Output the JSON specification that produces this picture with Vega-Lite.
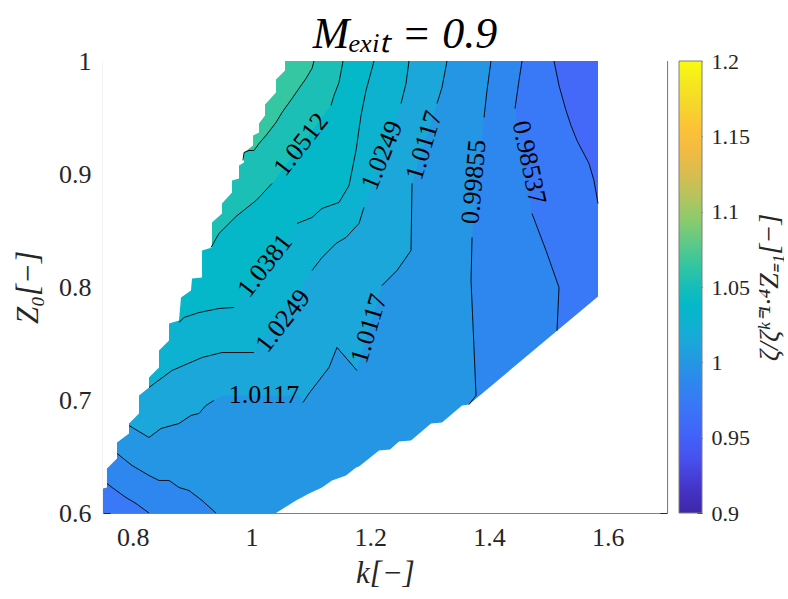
{
  "$schema": "https://vega.github.io/schema/vega-lite/v6.json",
  "padding": {"left": 12, "top": 13, "right": 0, "bottom": 0},
  "background": "white",
  "config": {
    "view": {"stroke": null},
    "font": "Liberation Serif",
    "title": {"font": "Liberation Serif", "fontSize": 44, "fontWeight": "normal", "fontStyle": "italic", "color": "#000000"},
    "axis": {
      "labelFont": "Liberation Serif", "labelFontSize": 26, "labelColor": "#262626",
      "titleFont": "Liberation Serif", "titleFontSize": 31, "titleFontWeight": "normal", "titleFontStyle": "italic", "titleColor": "#262626",
      "domainColor": "#7f7f7f", "domainWidth": 1.2, "tickColor": "#262626", "tickWidth": 1,
      "grid": false, "zindex": 1
    }
  },
  "datasets": {
    "c": [
      {"l":"L0","s":0,"i":0,"k":0.70,"z":1.05},
      {"l":"L0","s":0,"i":1,"k":1.75,"z":1.05},
      {"l":"L0","s":0,"i":2,"k":1.75,"z":0.55},
      {"l":"L0","s":0,"i":3,"k":0.70,"z":0.55},

      {"l":"L1","s":0,"i":0,"k":1.5097,"z":1.05},
      {"l":"L1","s":1,"i":1,"k":1.5097,"z":1.0},
      {"l":"L1","s":1,"i":2,"k":1.5181,"z":0.9783},
      {"l":"L1","s":1,"i":3,"k":1.5299,"z":0.9562},
      {"l":"L1","s":1,"i":4,"k":1.5383,"z":0.9429},
      {"l":"L1","s":1,"i":5,"k":1.5484,"z":0.9296},
      {"l":"L1","s":1,"i":6,"k":1.5686,"z":0.9093},
      {"l":"L1","s":1,"i":7,"k":1.5770,"z":0.8942},
      {"l":"L1","s":1,"i":8,"k":1.5838,"z":0.8739},
      {"l":"L1","s":0,"i":9,"k":1.75,"z":0.8739},
      {"l":"L1","s":0,"i":10,"k":1.75,"z":0.55},
      {"l":"L1","s":0,"i":11,"k":0.70,"z":0.55},
      {"l":"L1","s":0,"i":12,"k":0.70,"z":1.05},

      {"l":"L2","s":0,"i":0,"k":1.4558,"z":1.05},
      {"l":"L2","s":1,"i":1,"k":1.4558,"z":1.0},
      {"l":"L2","s":1,"i":2,"k":1.4507,"z":0.9827},
      {"l":"L2","s":1,"i":3,"k":1.4440,"z":0.9580},
      {"l":"L2","s":2,"i":4,"k":1.4726,"z":0.8650},
      {"l":"L2","s":2,"i":5,"k":1.4962,"z":0.8323},
      {"l":"L2","s":2,"i":6,"k":1.5181,"z":0.7996},
      {"l":"L2","s":2,"i":7,"k":1.5147,"z":0.7612},
      {"l":"L2","s":0,"i":8,"k":1.75,"z":0.55},
      {"l":"L2","s":0,"i":9,"k":0.8275,"z":0.55},
      {"l":"L2","s":3,"i":10,"k":0.8275,"z":0.6},
      {"l":"L2","s":3,"i":11,"k":0.8056,"z":0.6084},
      {"l":"L2","s":3,"i":12,"k":0.7887,"z":0.6137},
      {"l":"L2","s":3,"i":13,"k":0.7652,"z":0.6226},
      {"l":"L2","s":3,"i":14,"k":0.7567,"z":0.6261},
      {"l":"L2","s":0,"i":15,"k":0.70,"z":0.6261},
      {"l":"L2","s":0,"i":16,"k":0.70,"z":1.05},

      {"l":"L3","s":0,"i":0,"k":1.4035,"z":1.05},
      {"l":"L3","s":1,"i":1,"k":1.4035,"z":1.0},
      {"l":"L3","s":1,"i":2,"k":1.3968,"z":0.9739},
      {"l":"L3","s":1,"i":3,"k":1.3918,"z":0.9500},
      {"l":"L3","s":2,"i":4,"k":1.3716,"z":0.8438},
      {"l":"L3","s":2,"i":5,"k":1.3699,"z":0.8058},
      {"l":"L3","s":2,"i":6,"k":1.3749,"z":0.7465},
      {"l":"L3","s":2,"i":7,"k":1.3783,"z":0.7040},
      {"l":"L3","s":2,"i":8,"k":1.3665,"z":0.6960},
      {"l":"L3","s":0,"i":9,"k":1.40,"z":0.55},
      {"l":"L3","s":0,"i":10,"k":0.9403,"z":0.55},
      {"l":"L3","s":3,"i":11,"k":0.9403,"z":0.6},
      {"l":"L3","s":3,"i":12,"k":0.9168,"z":0.6111},
      {"l":"L3","s":3,"i":13,"k":0.8949,"z":0.6199},
      {"l":"L3","s":3,"i":14,"k":0.8780,"z":0.6226},
      {"l":"L3","s":3,"i":15,"k":0.8612,"z":0.6288},
      {"l":"L3","s":3,"i":16,"k":0.8443,"z":0.6288},
      {"l":"L3","s":3,"i":17,"k":0.8275,"z":0.6332},
      {"l":"L3","s":3,"i":18,"k":0.7988,"z":0.6421},
      {"l":"L3","s":3,"i":19,"k":0.7736,"z":0.6527},
      {"l":"L3","s":0,"i":20,"k":0.70,"z":0.6527},
      {"l":"L3","s":0,"i":21,"k":0.70,"z":1.05},

      {"l":"L4","s":0,"i":0,"k":1.3294,"z":1.05},
      {"l":"L4","s":1,"i":1,"k":1.3294,"z":1.0},
      {"l":"L4","s":1,"i":2,"k":1.3210,"z":0.9765},
      {"l":"L4","s":1,"i":3,"k":1.3126,"z":0.9624},
      {"l":"L4","s":2,"i":4,"k":1.2705,"z":0.8916},
      {"l":"L4","s":2,"i":5,"k":1.2688,"z":0.8323},
      {"l":"L4","s":2,"i":6,"k":1.2452,"z":0.8146},
      {"l":"L4","s":2,"i":7,"k":1.2199,"z":0.8013},
      {"l":"L4","s":3,"i":8,"k":1.1778,"z":0.7261},
      {"l":"L4","s":3,"i":9,"k":1.1441,"z":0.7465},
      {"l":"L4","s":3,"i":10,"k":1.1307,"z":0.7288},
      {"l":"L4","s":3,"i":11,"k":1.0970,"z":0.7058},
      {"l":"L4","s":3,"i":12,"k":1.0869,"z":0.6978},
      {"l":"L4","s":0,"i":13,"k":1.0801,"z":0.7040},
      {"l":"L4","s":0,"i":14,"k":0.9504,"z":0.7040},
      {"l":"L4","s":4,"i":15,"k":0.9370,"z":0.6996},
      {"l":"L4","s":4,"i":16,"k":0.9235,"z":0.6952},
      {"l":"L4","s":4,"i":17,"k":0.9117,"z":0.6881},
      {"l":"L4","s":4,"i":18,"k":0.8982,"z":0.6863},
      {"l":"L4","s":4,"i":19,"k":0.8780,"z":0.6792},
      {"l":"L4","s":4,"i":20,"k":0.8477,"z":0.6748},
      {"l":"L4","s":4,"i":21,"k":0.8275,"z":0.6668},
      {"l":"L4","s":4,"i":22,"k":0.7938,"z":0.6774},
      {"l":"L4","s":0,"i":23,"k":0.70,"z":0.6774},
      {"l":"L4","s":0,"i":24,"k":0.70,"z":1.05},

      {"l":"L5","s":0,"i":0,"k":1.2654,"z":1.05},
      {"l":"L5","s":1,"i":1,"k":1.2654,"z":1.0},
      {"l":"L5","s":1,"i":2,"k":1.2604,"z":0.9801},
      {"l":"L5","s":1,"i":3,"k":1.2520,"z":0.9624},
      {"l":"L5","s":2,"i":4,"k":1.1896,"z":0.8704},
      {"l":"L5","s":2,"i":5,"k":1.1812,"z":0.8562},
      {"l":"L5","s":2,"i":6,"k":1.1593,"z":0.8438},
      {"l":"L5","s":2,"i":7,"k":1.1425,"z":0.8385},
      {"l":"L5","s":2,"i":8,"k":1.1189,"z":0.8261},
      {"l":"L5","s":2,"i":9,"k":1.1020,"z":0.8146},
      {"l":"L5","s":3,"i":10,"k":1.0043,"z":0.7420},
      {"l":"L5","s":3,"i":11,"k":0.9504,"z":0.7420},
      {"l":"L5","s":3,"i":12,"k":0.9168,"z":0.7376},
      {"l":"L5","s":3,"i":13,"k":0.8662,"z":0.7261},
      {"l":"L5","s":3,"i":14,"k":0.8275,"z":0.7111},
      {"l":"L5","s":0,"i":15,"k":0.70,"z":0.7111},
      {"l":"L5","s":0,"i":16,"k":0.70,"z":1.05},

      {"l":"L6","s":0,"i":0,"k":1.2065,"z":1.05},
      {"l":"L6","s":1,"i":1,"k":1.2065,"z":1.0},
      {"l":"L6","s":1,"i":2,"k":1.1930,"z":0.9739},
      {"l":"L6","s":1,"i":3,"k":1.1846,"z":0.9518},
      {"l":"L6","s":1,"i":4,"k":1.1762,"z":0.9208},
      {"l":"L6","s":1,"i":5,"k":1.1644,"z":0.8898},
      {"l":"L6","s":1,"i":6,"k":1.1475,"z":0.8748},
      {"l":"L6","s":1,"i":7,"k":1.1189,"z":0.8695},
      {"l":"L6","s":1,"i":8,"k":1.1020,"z":0.8615},
      {"l":"L6","s":1,"i":9,"k":1.0768,"z":0.8562},
      {"l":"L6","s":2,"i":10,"k":0.9707,"z":0.7819},
      {"l":"L6","s":2,"i":11,"k":0.9454,"z":0.7810},
      {"l":"L6","s":2,"i":12,"k":0.9117,"z":0.7774},
      {"l":"L6","s":2,"i":13,"k":0.8864,"z":0.7730},
      {"l":"L6","s":2,"i":14,"k":0.8780,"z":0.7686},
      {"l":"L6","s":0,"i":15,"k":0.70,"z":0.7686},
      {"l":"L6","s":0,"i":16,"k":0.70,"z":1.05},

      {"l":"L7","s":0,"i":0,"k":1.1543,"z":1.05},
      {"l":"L7","s":1,"i":1,"k":1.1543,"z":1.0},
      {"l":"L7","s":1,"i":2,"k":1.1475,"z":0.9810},
      {"l":"L7","s":1,"i":3,"k":1.1391,"z":0.9695},
      {"l":"L7","s":1,"i":4,"k":1.1340,"z":0.9606},
      {"l":"L7","s":2,"i":5,"k":1.0347,"z":0.8916},
      {"l":"L7","s":2,"i":6,"k":1.0077,"z":0.8765},
      {"l":"L7","s":2,"i":7,"k":0.9740,"z":0.8624},
      {"l":"L7","s":2,"i":8,"k":0.9454,"z":0.8474},
      {"l":"L7","s":2,"i":9,"k":0.9319,"z":0.8350},
      {"l":"L7","s":0,"i":10,"k":0.70,"z":0.8350},
      {"l":"L7","s":0,"i":11,"k":0.70,"z":1.05},

      {"l":"L8","s":0,"i":0,"k":1.1054,"z":1.05},
      {"l":"L8","s":1,"i":1,"k":1.1054,"z":1.0},
      {"l":"L8","s":1,"i":2,"k":1.1020,"z":0.9934},
      {"l":"L8","s":1,"i":3,"k":1.0919,"z":0.9845},
      {"l":"L8","s":1,"i":4,"k":1.0801,"z":0.9757},
      {"l":"L8","s":1,"i":5,"k":1.0684,"z":0.9668},
      {"l":"L8","s":1,"i":6,"k":1.0515,"z":0.9544},
      {"l":"L8","s":1,"i":7,"k":1.0414,"z":0.9456},
      {"l":"L8","s":1,"i":8,"k":1.0246,"z":0.9341},
      {"l":"L8","s":1,"i":9,"k":1.0128,"z":0.9270},
      {"l":"L8","s":1,"i":10,"k":1.0043,"z":0.9208},
      {"l":"L8","s":1,"i":11,"k":0.9959,"z":0.9208},
      {"l":"L8","s":1,"i":12,"k":0.9875,"z":0.9190},
      {"l":"L8","s":1,"i":13,"k":0.9858,"z":0.9120},
      {"l":"L8","s":0,"i":14,"k":0.70,"z":0.9120},
      {"l":"L8","s":0,"i":15,"k":0.70,"z":1.05},

      {"l":"M1","s":0,"i":0,"k":0.70,"z":1.05},
      {"l":"M1","s":0,"i":1,"k":1.0566,"z":1.05},
      {"l":"M1","s":0,"i":2,"k":1.0566,"z":0.9916},
      {"l":"M1","s":0,"i":3,"k":1.0414,"z":0.9836},
      {"l":"M1","s":0,"i":4,"k":1.0414,"z":0.9721},
      {"l":"M1","s":0,"i":5,"k":1.0229,"z":0.9615},
      {"l":"M1","s":0,"i":6,"k":1.0229,"z":0.9518},
      {"l":"M1","s":0,"i":7,"k":1.0128,"z":0.9447},
      {"l":"M1","s":0,"i":8,"k":1.0128,"z":0.9367},
      {"l":"M1","s":0,"i":9,"k":1.0027,"z":0.9341},
      {"l":"M1","s":0,"i":10,"k":1.0027,"z":0.9252},
      {"l":"M1","s":0,"i":11,"k":0.9875,"z":0.9190},
      {"l":"M1","s":0,"i":12,"k":0.9875,"z":0.9102},
      {"l":"M1","s":0,"i":13,"k":0.9791,"z":0.9075},
      {"l":"M1","s":0,"i":14,"k":0.9791,"z":0.8960},
      {"l":"M1","s":0,"i":15,"k":0.9673,"z":0.8942},
      {"l":"M1","s":0,"i":16,"k":0.9673,"z":0.8836},
      {"l":"M1","s":0,"i":17,"k":0.9504,"z":0.8739},
      {"l":"M1","s":0,"i":18,"k":0.9504,"z":0.8650},
      {"l":"M1","s":0,"i":19,"k":0.9336,"z":0.8571},
      {"l":"M1","s":0,"i":20,"k":0.9336,"z":0.8350},
      {"l":"M1","s":0,"i":21,"k":0.9168,"z":0.8323},
      {"l":"M1","s":0,"i":22,"k":0.9168,"z":0.8084},
      {"l":"M1","s":0,"i":23,"k":0.8999,"z":0.8075},
      {"l":"M1","s":0,"i":24,"k":0.8982,"z":0.7969},
      {"l":"M1","s":0,"i":25,"k":0.8814,"z":0.7907},
      {"l":"M1","s":0,"i":26,"k":0.8780,"z":0.7704},
      {"l":"M1","s":0,"i":27,"k":0.8612,"z":0.7677},
      {"l":"M1","s":0,"i":28,"k":0.8612,"z":0.7527},
      {"l":"M1","s":0,"i":29,"k":0.8443,"z":0.7438},
      {"l":"M1","s":0,"i":30,"k":0.8443,"z":0.7288},
      {"l":"M1","s":0,"i":31,"k":0.8275,"z":0.7199},
      {"l":"M1","s":0,"i":32,"k":0.8275,"z":0.7111},
      {"l":"M1","s":0,"i":33,"k":0.8106,"z":0.7040},
      {"l":"M1","s":0,"i":34,"k":0.8106,"z":0.6881},
      {"l":"M1","s":0,"i":35,"k":0.7938,"z":0.6792},
      {"l":"M1","s":0,"i":36,"k":0.7938,"z":0.6704},
      {"l":"M1","s":0,"i":37,"k":0.7736,"z":0.6624},
      {"l":"M1","s":0,"i":38,"k":0.7736,"z":0.6482},
      {"l":"M1","s":0,"i":39,"k":0.7567,"z":0.6394},
      {"l":"M1","s":0,"i":40,"k":0.7567,"z":0.6226},
      {"l":"M1","s":0,"i":41,"k":0.75,"z":0.6217},
      {"l":"M1","s":0,"i":42,"k":0.70,"z":0.6217},

      {"l":"M2","s":0,"i":0,"k":1.0414,"z":0.55},
      {"l":"M2","s":0,"i":1,"k":1.0414,"z":0.6},
      {"l":"M2","s":0,"i":2,"k":1.0751,"z":0.6111},
      {"l":"M2","s":0,"i":3,"k":1.0970,"z":0.6173},
      {"l":"M2","s":0,"i":4,"k":1.1189,"z":0.6226},
      {"l":"M2","s":0,"i":5,"k":1.1357,"z":0.6288},
      {"l":"M2","s":0,"i":6,"k":1.1593,"z":0.6332},
      {"l":"M2","s":0,"i":7,"k":1.1762,"z":0.6403},
      {"l":"M2","s":0,"i":8,"k":1.1812,"z":0.6411},
      {"l":"M2","s":0,"i":9,"k":1.2149,"z":0.6553},
      {"l":"M2","s":0,"i":10,"k":1.2334,"z":0.6562},
      {"l":"M2","s":0,"i":11,"k":1.2486,"z":0.6633},
      {"l":"M2","s":0,"i":12,"k":1.2688,"z":0.6642},
      {"l":"M2","s":0,"i":13,"k":1.3025,"z":0.6792},
      {"l":"M2","s":0,"i":14,"k":1.3210,"z":0.6801},
      {"l":"M2","s":0,"i":15,"k":1.3547,"z":0.6952},
      {"l":"M2","s":0,"i":16,"k":1.3665,"z":0.6960},
      {"l":"M2","s":0,"i":17,"k":1.5838,"z":0.7916},
      {"l":"M2","s":0,"i":18,"k":1.5838,"z":1.05},
      {"l":"M2","s":0,"i":19,"k":1.75,"z":1.05},
      {"l":"M2","s":0,"i":20,"k":1.75,"z":0.55}
    ],
    "labs": [
      {"g":"p78","t":"0.98537","k":1.4676,"z":0.9102},
      {"g":"m85","t":"0.99855","k":1.3750,"z":0.8930},
      {"g":"m73","t":"1.0117","k":1.2907,"z":0.9252},
      {"g":"m73","t":"1.0117","k":1.1980,"z":0.7632},
      {"g":"z0","t":"1.0117","k":1.0212,"z":0.7040},
      {"g":"m68","t":"1.0249","k":1.2200,"z":0.9164},
      {"g":"m52","t":"1.0249","k":1.0532,"z":0.7700},
      {"g":"m52","t":"1.0381","k":1.0229,"z":0.8190},
      {"g":"m52","t":"1.0512","k":1.0835,"z":0.9261}
    ]
  },
  "spacing": 10,
  "hconcat": [
    {
      "width": 564,
      "height": 452,
      "title": {"text": "Mₑₓᵢₜ = 0.9", "anchor": "middle", "offset": -9, "dx": 20},
      "data": {"name": "c"},
      "encoding": {
        "x": {"field": "k", "type": "quantitative", "scale": {"domain": [0.75, 1.7], "nice": false, "zero": false}, "axis": null},
        "y": {"field": "z", "type": "quantitative", "scale": {"domain": [0.6, 1.0], "nice": false, "zero": false}, "axis": null}
      },
      "resolve": {"axis": {"x": "independent", "y": "independent"}},
      "layer": [
        {
          "mark": {"type": "line", "clip": true, "strokeOpacity": 0, "strokeWidth": 0},
          "encoding": {
            "x": {"field": "k", "type": "quantitative", "scale": {"domain": [0.75, 1.7], "nice": false, "zero": false},
                  "axis": {"orient": "bottom", "values": [0.8, 1, 1.2, 1.4, 1.6], "format": "~g", "title": "k[−]", "tickSize": -7, "labelPadding": 18, "titlePadding": 8}},
            "y": {"field": "z", "type": "quantitative", "scale": {"domain": [0.6, 1.0], "nice": false, "zero": false},
                  "axis": {"orient": "left", "values": [0.6, 0.7, 0.8, 0.9, 1], "format": "~g", "title": "Z₀[−]", "tickSize": -7, "labelPadding": 19, "titlePadding": 14}},
            "fill": {"field": "l", "type": "nominal", "legend": null,
                     "scale": {"domain": ["L0","L1","L2","L3","L4","L5","L6","L7","L8","M1","M2"],
                               "range": ["#4468f8","#3978f6","#2d87ef","#2596e3","#1ba7d9","#0db2d1","#05b8c9","#1cbfb6","#35c6a2","#ffffff","#ffffff"]}},
            "detail": {"field": "l"},
            "order": {"field": "i", "type": "quantitative"}
          }
        },
        {
          "transform": [{"filter": "datum.s > 0"}],
          "mark": {"type": "line", "clip": true, "color": "#000000", "strokeWidth": 0.9},
          "encoding": {
            "x": {"field": "k", "type": "quantitative", "scale": {"domain": [0.75, 1.7], "nice": false, "zero": false},
                  "axis": {"orient": "top", "values": [0.8, 1, 1.2, 1.4, 1.6], "labels": false, "title": null, "tickSize": -7}},
            "y": {"field": "z", "type": "quantitative", "scale": {"domain": [0.6, 1.0], "nice": false, "zero": false},
                  "axis": {"orient": "right", "values": [0.6, 0.7, 0.8, 0.9, 1], "labels": false, "title": null, "tickSize": -7}},
            "detail": [{"field": "l"}, {"field": "s"}],
            "order": {"field": "i", "type": "quantitative"}
          }
        },
        {
          "data": {"name": "labs"},
          "transform": [{"filter": "datum.g === 'p78'"}],
          "mark": {"type": "text", "angle": 78, "font": "Liberation Serif", "fontSize": 26, "color": "#000000"},
          "encoding": {"text": {"field": "t"}}
        },
        {
          "data": {"name": "labs"},
          "transform": [{"filter": "datum.g === 'm85'"}],
          "mark": {"type": "text", "angle": -85, "font": "Liberation Serif", "fontSize": 26, "color": "#000000"},
          "encoding": {"text": {"field": "t"}}
        },
        {
          "data": {"name": "labs"},
          "transform": [{"filter": "datum.g === 'm73'"}],
          "mark": {"type": "text", "angle": -73, "font": "Liberation Serif", "fontSize": 26, "color": "#000000"},
          "encoding": {"text": {"field": "t"}}
        },
        {
          "data": {"name": "labs"},
          "transform": [{"filter": "datum.g === 'm68'"}],
          "mark": {"type": "text", "angle": -68, "font": "Liberation Serif", "fontSize": 26, "color": "#000000"},
          "encoding": {"text": {"field": "t"}}
        },
        {
          "data": {"name": "labs"},
          "transform": [{"filter": "datum.g === 'm52'"}],
          "mark": {"type": "text", "angle": -52, "font": "Liberation Serif", "fontSize": 26, "color": "#000000"},
          "encoding": {"text": {"field": "t"}}
        },
        {
          "data": {"name": "labs"},
          "transform": [{"filter": "datum.g === 'z0'"}],
          "mark": {"type": "text", "angle": 0, "font": "Liberation Serif", "fontSize": 26, "color": "#000000"},
          "encoding": {"text": {"field": "t"}}
        }
      ]
    },
    {
      "width": 23,
      "height": 452,
      "data": {"values": [{"lo": 0.9, "hi": 1.2}]},
      "mark": {
        "type": "rect",
        "stroke": "#7f7f7f",
        "strokeWidth": 1,
        "fill": {
          "gradient": "linear", "x1": 0, "y1": 1, "x2": 0, "y2": 0,
          "stops": [
            {"offset": 0.0, "color": "#3e26a8"},
            {"offset": 0.06, "color": "#4536cb"},
            {"offset": 0.12, "color": "#4751ef"},
            {"offset": 0.18, "color": "#4165fa"},
            {"offset": 0.24, "color": "#3878f6"},
            {"offset": 0.29, "color": "#2d87ef"},
            {"offset": 0.33, "color": "#2596e3"},
            {"offset": 0.38, "color": "#1aa7da"},
            {"offset": 0.42, "color": "#0eb2d0"},
            {"offset": 0.46, "color": "#05b8c9"},
            {"offset": 0.5, "color": "#16bdb8"},
            {"offset": 0.55, "color": "#35c6a0"},
            {"offset": 0.6, "color": "#5fca85"},
            {"offset": 0.65, "color": "#8ccb6c"},
            {"offset": 0.7, "color": "#b5c45d"},
            {"offset": 0.75, "color": "#d7bd4f"},
            {"offset": 0.8, "color": "#f2ba42"},
            {"offset": 0.85, "color": "#fdc238"},
            {"offset": 0.9, "color": "#f6d52b"},
            {"offset": 0.95, "color": "#f5e720"},
            {"offset": 1.0, "color": "#f9fb0e"}
          ]
        }
      },
      "encoding": {
        "x": {"datum": 0, "type": "quantitative", "scale": {"domain": [0, 1]}, "axis": null},
        "x2": {"datum": 1},
        "y": {"field": "lo", "type": "quantitative", "scale": {"domain": [0.9, 1.2], "nice": false, "zero": false},
              "axis": {"orient": "right", "values": [0.9, 0.95, 1, 1.05, 1.1, 1.15, 1.2], "format": "~g", "tickSize": -5, "labelPadding": 14, "labelFontSize": 22,
                       "title": "ζ/ζᵏ⁼¹·⁴Z₌₁[−]", "titleFontSize": 28, "titleAngle": -90, "titlePadding": 34, "domain": false}},
        "y2": {"field": "hi"}
      }
    }
  ]
}
